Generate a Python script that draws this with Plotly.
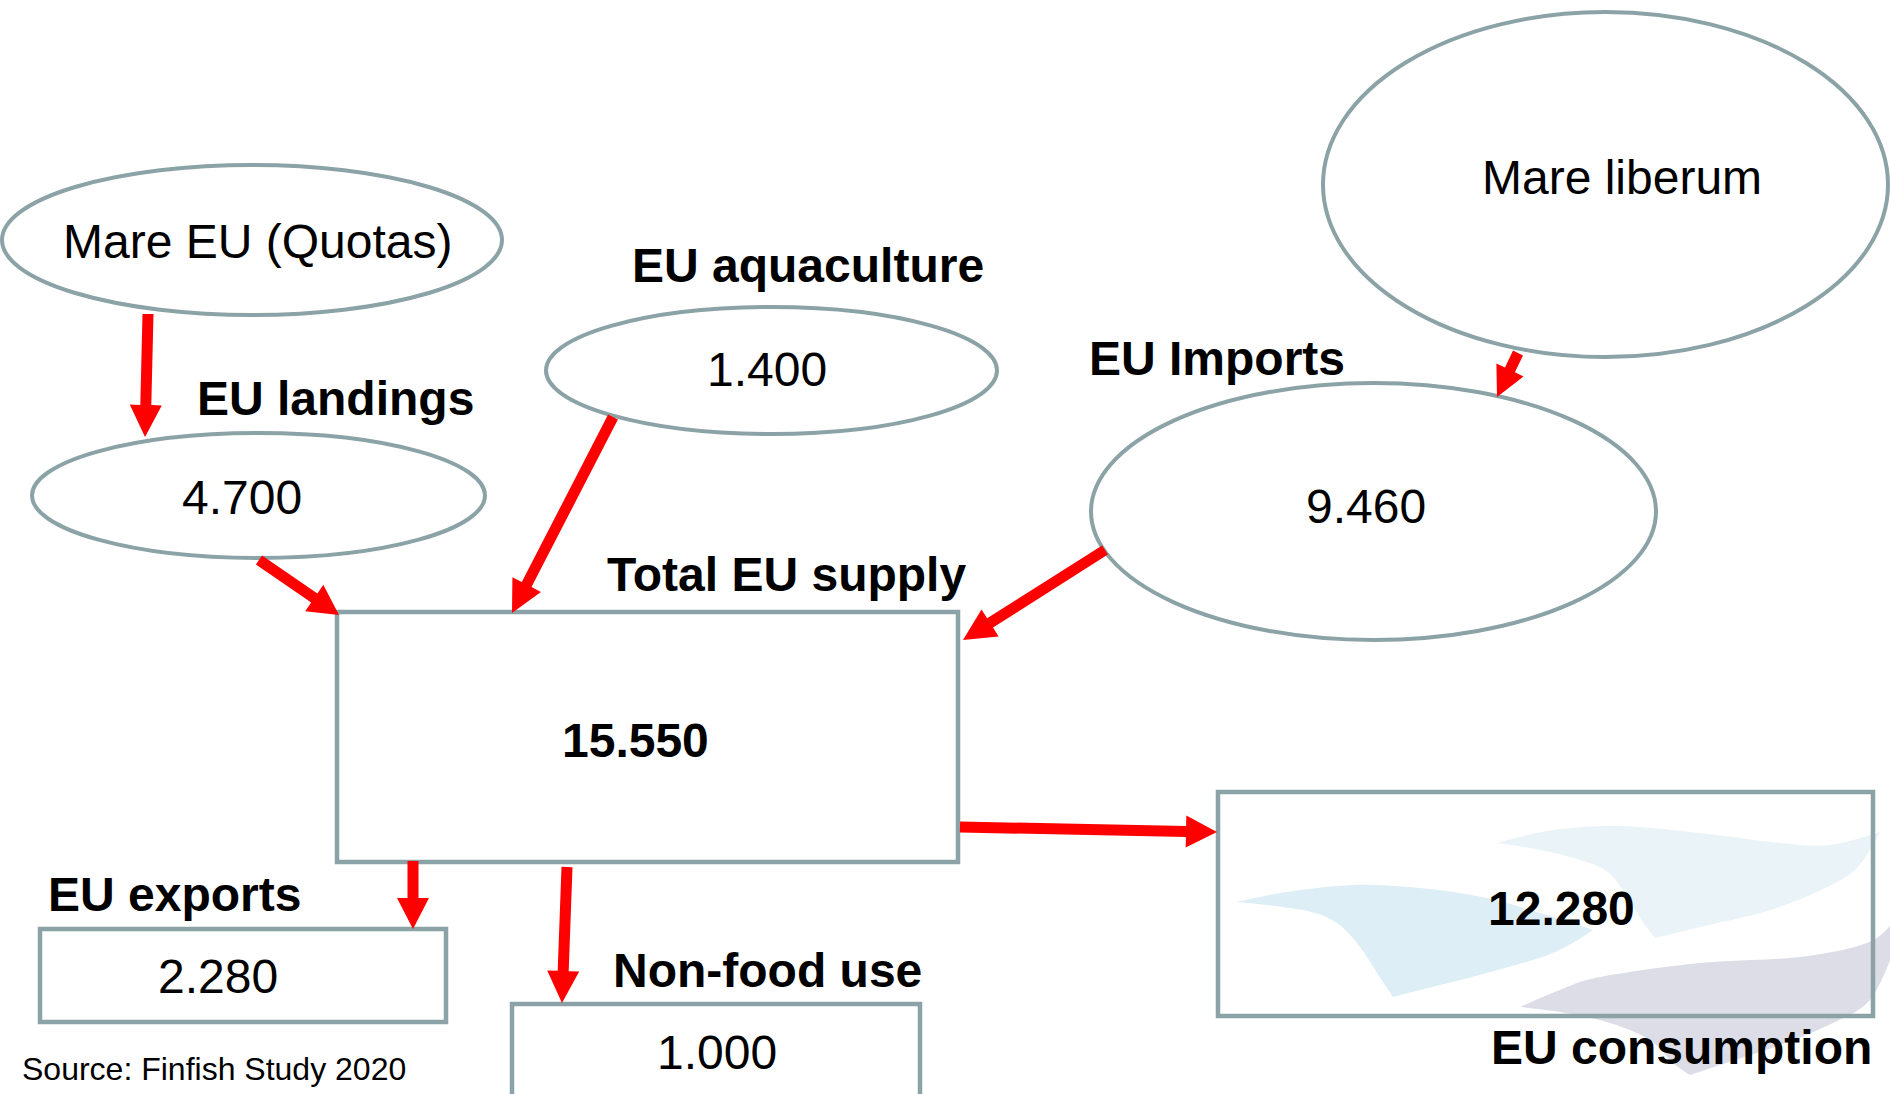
import math
import plotly.graph_objects as go

# ---------------- data ----------------
node_names = ["EU landings", "EU aquaculture", "EU Imports", "Total EU supply",
              "EU consumption", "EU exports", "Non-food use"]
node_values = [4700, 1400, 9460, 15550, 12280, 2280, 1000]
origin_names = ["Mare EU (Quotas)", "Mare liberum"]
source_note = "Source: Finfish Study 2020"

# ---------------- layout (pixel canvas) ----------------
W, H = 1890, 1094
FONT = "Liberation Sans, Arial, sans-serif"
EDGE = "#8BA3A6"
RED = "#FF0000"
VAL_SIZE = 48
LAB_SIZE = 48

node_geom = {
    "EU landings":     dict(kind="circle", box=(32, 433, 485, 558), val=(242, 497), bold=False,
                            lab=(335, 398), lanchor="center"),
    "EU aquaculture":  dict(kind="circle", box=(546, 307, 997, 434), val=(767, 369), bold=False,
                            lab=(808, 265), lanchor="center"),
    "EU Imports":      dict(kind="circle", box=(1091, 383, 1656, 640), val=(1366, 506), bold=False,
                            lab=(1217, 358), lanchor="center"),
    "Total EU supply": dict(kind="rect", box=(337, 612, 958, 862), val=(635, 740), bold=True,
                            lab=(786, 574), lanchor="center"),
    "EU consumption":  dict(kind="rect", box=(1218, 792, 1873, 1016), val=(1561, 908), bold=True,
                            lab=(1874, 1047), lanchor="right"),
    "EU exports":      dict(kind="rect", box=(40, 929, 446, 1022), val=(218, 976), bold=False,
                            lab=(174, 894), lanchor="center"),
    "Non-food use":    dict(kind="rect", box=(512, 1004, 920, 1110), val=(717, 1052), bold=False,
                            lab=(767, 970), lanchor="center"),
}
origin_geom = {
    "Mare EU (Quotas)": dict(box=(2, 165, 502, 315), lab=(257, 241)),
    "Mare liberum":     dict(box=(1323, 12, 1888, 357), lab=(1622, 177)),
}
# arrows: start point, tip point, head length, head half-width
arrows = [
    ((148, 314), (145, 437), 32, 16),
    ((259, 560), (339, 615), 30, 16),
    ((613, 417), (512, 613), 32, 16),
    ((1105, 550), (963, 640), 32, 16),
    ((1518, 353), (1497, 397), 30, 15),
    ((960, 827), (1217, 832), 31, 16),
    ((413, 861), (413, 929), 31, 16),
    ((567, 867), (562, 1003), 32, 16),
]
SHAFT_HALF = 5.5

# decorative background waves inside the consumption box (outline points, sharp-corner indices)
waves = [
    ("#EAF3F7", [(1497, 843), (1553, 830), (1620, 826), (1700, 833), (1780, 843), (1830, 845),
                 (1880, 832), (1855, 870), (1810, 895), (1760, 913), (1700, 927), (1655, 938),
                 (1640, 918), (1625, 893), (1605, 870), (1570, 857), (1530, 848)], {0, 6, 11}),
    ("#DDEEF6", [(1237, 902), (1287, 892), (1353, 885), (1420, 888), (1487, 898), (1553, 917),
                 (1593, 930), (1553, 953), (1487, 973), (1420, 990), (1393, 997), (1377, 973),
                 (1360, 947), (1337, 923), (1303, 910)], {0, 6, 10}),
    ("#DCDDE6", [(1520, 1007), (1560, 990), (1600, 977), (1700, 963), (1800, 957), (1867, 943),
                 (1892, 923), (1892, 955), (1870, 1000), (1833, 1023), (1780, 1045), (1720, 1065),
                 (1690, 1075), (1673, 1063), (1650, 1040), (1610, 1023), (1560, 1012)], {0, 6, 7, 12}),
]


def fmt(v):
    return f"{v:,}".replace(",", ".")


def arrow_path(s, t, hl, hw, sw):
    dx, dy = t[0] - s[0], t[1] - s[1]
    L = math.hypot(dx, dy)
    ux, uy = dx / L, dy / L
    nx, ny = -uy, ux
    bx, by = t[0] - ux * hl, t[1] - uy * hl
    pts = [
        (s[0] + nx * sw, s[1] + ny * sw),
        (bx + nx * sw, by + ny * sw),
        (bx + nx * hw, by + ny * hw),
        t,
        (bx - nx * hw, by - ny * hw),
        (bx - nx * sw, by - ny * sw),
        (s[0] - nx * sw, s[1] - ny * sw),
    ]
    return "M " + " L ".join(f"{x:.1f},{y:.1f}" for x, y in pts) + " Z"


def smooth_path(pts, sharp):
    n = len(pts)

    def tangent(i):
        if i in sharp:
            return (0.0, 0.0)
        p0, p2 = pts[(i - 1) % n], pts[(i + 1) % n]
        return ((p2[0] - p0[0]) / 6.0, (p2[1] - p0[1]) / 6.0)

    d = f"M {pts[0][0]},{pts[0][1]}"
    for i in range(n):
        a, b = pts[i], pts[(i + 1) % n]
        ta, tb = tangent(i), tangent((i + 1) % n)
        c1 = (a[0] + ta[0], a[1] + ta[1])
        c2 = (b[0] - tb[0], b[1] - tb[1])
        d += f" C {c1[0]:.1f},{c1[1]:.1f} {c2[0]:.1f},{c2[1]:.1f} {b[0]},{b[1]}"
    return d + " Z"


shapes = []
annotations = []

for color, pts, sharp in waves:
    shapes.append(dict(type="path", path=smooth_path(pts, sharp), fillcolor=color,
                       line=dict(width=0), layer="below", xref="x", yref="y"))

for name in origin_names:
    g = origin_geom[name]
    x0, y0, x1, y1 = g["box"]
    shapes.append(dict(type="circle", x0=x0, y0=y0, x1=x1, y1=y1, xref="x", yref="y",
                       line=dict(color=EDGE, width=4), fillcolor="rgba(0,0,0,0)"))
    annotations.append(dict(x=g["lab"][0], y=g["lab"][1], text=name, showarrow=False,
                            xanchor="center", yanchor="middle", xref="x", yref="y",
                            font=dict(family=FONT, size=VAL_SIZE, color="black")))

for name, val in zip(node_names, node_values):
    g = node_geom[name]
    x0, y0, x1, y1 = g["box"]
    shapes.append(dict(type=g["kind"], x0=x0, y0=y0, x1=x1, y1=y1, xref="x", yref="y",
                       line=dict(color=EDGE, width=4.5 if g["kind"] == "rect" else 4),
                       fillcolor="rgba(0,0,0,0)"))
    txt = fmt(val)
    if g["bold"]:
        txt = f"<b>{txt}</b>"
    annotations.append(dict(x=g["val"][0], y=g["val"][1], text=txt, showarrow=False,
                            xanchor="center", yanchor="middle", xref="x", yref="y",
                            font=dict(family=FONT, size=VAL_SIZE, color="black")))
    annotations.append(dict(x=g["lab"][0], y=g["lab"][1], text=f"<b>{name}</b>", showarrow=False,
                            xanchor=g["lanchor"], yanchor="middle", xref="x", yref="y",
                            font=dict(family=FONT, size=LAB_SIZE, color="black")))

for s, t, hl, hw in arrows:
    shapes.append(dict(type="path", path=arrow_path(s, t, hl, hw, SHAFT_HALF),
                       fillcolor=RED, line=dict(width=0), xref="x", yref="y"))

annotations.append(dict(x=20, y=1069, text=source_note, showarrow=False,
                        xanchor="left", yanchor="middle", xref="x", yref="y",
                        font=dict(family=FONT, size=32, color="black")))

fig = go.Figure()
fig.add_trace(go.Scatter(x=[0, W], y=[0, H], mode="markers",
                         marker=dict(opacity=0), hoverinfo="skip", showlegend=False))
fig.update_layout(
    width=W, height=H,
    margin=dict(l=0, r=0, t=0, b=0),
    paper_bgcolor="white", plot_bgcolor="white",
    xaxis=dict(range=[0, W], visible=False, fixedrange=True),
    yaxis=dict(range=[H, 0], visible=False, fixedrange=True),
    shapes=shapes, annotations=annotations,
    showlegend=False,
)
fig.write_html("out.html", config={"displayModeBar": False},
               post_script="document.body.style.margin='0';document.body.style.overflow='hidden';")
